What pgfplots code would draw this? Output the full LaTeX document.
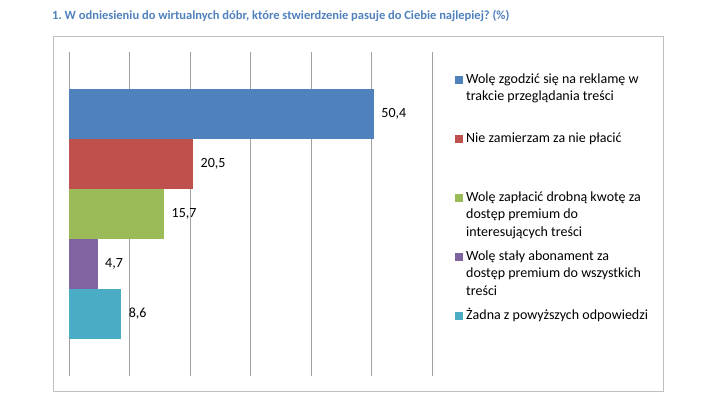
\documentclass[border=0pt]{standalone}
\usepackage{pgfplots}
\pgfplotsset{compat=1.18}
\usepackage{fontspec}
\setmainfont{Carlito}
\frenchspacing
\definecolor{cBlue}{HTML}{4F81BD}
\definecolor{cRed}{HTML}{C0504D}
\definecolor{cGreen}{HTML}{9BBB59}
\definecolor{cPurple}{HTML}{8064A2}
\definecolor{cTeal}{HTML}{4BACC6}
\definecolor{cTitle}{HTML}{4F81BD}
\definecolor{cGrid}{HTML}{A0A0A0}
\definecolor{cFrame}{HTML}{BEBEBE}
\newcommand{\lentry}[1]{\parbox[t]{200bp}{\raggedright\fontsize{14bp}{17.5bp}\selectfont #1}}
\begin{document}
\begin{tikzpicture}
\path[use as bounding box] (0,0) rectangle (718bp,404bp);
\draw[cFrame, line width=1bp] (53.7bp,367.3bp) rectangle (663bp,12.3bp);
\node[anchor=base west, inner sep=0pt, text=cTitle, font=\fontsize{12.5bp}{15bp}\selectfont\bfseries]
  at (52bp,384bp) {1.\ W odniesieniu do wirtualnych dóbr, które stwierdzenie pasuje do Ciebie najlepiej? (\%)};
\begin{axis}[
  at={(69.3bp,28bp)}, anchor=south west,
  scale only axis, width=362.7bp, height=324bp,
  xbar, bar shift=0pt, bar width=50,
  xmin=0, xmax=60, ymin=-162, ymax=162,
  xtick={0,10,...,60}, xticklabels={}, ytick=\empty,
  xmajorgrids, major grid style={cGrid, line width=0.9bp},
  axis line style={draw=none}, tick style={draw=none},
  clip=false,
  point meta=explicit symbolic,
  nodes near coords,
  every node near coord/.append style={anchor=west, xshift=4bp, font=\fontsize{14bp}{16bp}\selectfont, text=black},
  sq/.style={legend image code/.code={\fill[##1,draw=none] (0bp,-0.5bp) rectangle (7.5bp,7bp);}},
  legend cell align=left,
  legend style={at={(1.0634,0.944)}, anchor=north west, draw=none, fill=none, inner sep=0pt,
    column sep=3.5bp, row sep=0pt, cells={anchor=base west},
    nodes={inner sep=0pt, text height=13bp, text depth=46bp}},
]
\addplot[fill=cBlue, draw=none, sq] coordinates {(50.4,100) [50,4]};
\addlegendentry{\lentry{Wolę zgodzić się na reklamę w\\trakcie przeglądania treści}}
\addplot[fill=cRed, draw=none, sq] coordinates {(20.5,50) [20,5]};
\addlegendentry{\lentry{Nie zamierzam za nie płacić}}
\addplot[fill=cGreen, draw=none, sq] coordinates {(15.7,0) [15,7]};
\addlegendentry{\lentry{Wolę zapłacić drobną kwotę za\\dostęp premium do\\interesujących treści}}
\addplot[fill=cPurple, draw=none, sq] coordinates {(4.7,-50) [4,7]};
\addlegendentry{\lentry{Wolę stały abonament za\\dostęp premium do wszystkich\\treści}}
\addplot[fill=cTeal, draw=none, sq] coordinates {(8.6,-100) [8,6]};
\addlegendentry{\lentry{Żadna z powyższych odpowiedzi}}
\end{axis}
\end{tikzpicture}
\end{document}
